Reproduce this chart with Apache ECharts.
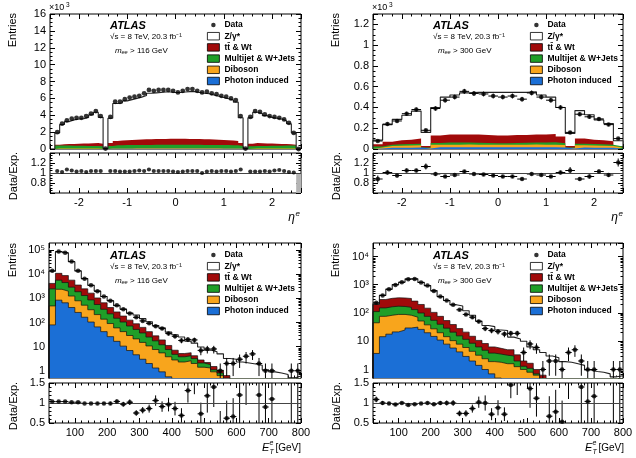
<!DOCTYPE html>
<html>
<head>
<meta charset="utf-8">
<script src="https://cdn.jsdelivr.net/npm/echarts@6/dist/echarts.min.js"></script>
<style>
html, body { margin: 0; padding: 0; background: #fff; }
#chart { width: 636px; height: 458px; }
</style>
</head>
<body>
<div id="chart"></div>
<script>
// ---------- eta^e, m_ee > 116 GeV  (entries x10^3, 0.1 bins from -2.5 to 2.6)
var etaLo116 = -2.5, etaW116 = 0.1
var etaData116 = [2.0, 3.0, 3.4, 3.6, 3.7, 3.7, 3.9, 4.2, 4.5, 3.9, 0.05,
  3.8, 5.6, 5.6, 5.9, 6.1, 6.2, 6.3, 6.6, 7.0, 6.9, 7.0, 7.0, 7.0, 6.9,
  6.7, 6.9, 7.1, 7.1, 6.9, 6.7, 6.8, 6.6, 6.5, 6.3, 6.2, 6.0, 5.8, 3.9, 0.05,
  3.8, 4.5, 4.4, 4.1, 3.9, 3.8, 3.7, 3.5, 3.1, 1.9, 0]
var etaTotal116 = [1.9, 2.9, 3.25, 3.45, 3.55, 3.6, 3.75, 4.05, 4.35, 3.75, 0.05,
  3.65, 5.4, 5.45, 5.7, 5.85, 6.0, 6.15, 6.35, 6.6, 6.65, 6.7, 6.75, 6.75, 6.7,
  6.7, 6.75, 6.8, 6.8, 6.7, 6.6, 6.55, 6.4, 6.25, 6.1, 5.95, 5.8, 5.55, 3.7, 0.05,
  3.7, 4.35, 4.2, 3.95, 3.75, 3.65, 3.55, 3.35, 3.0, 1.9, 0]
var etaTtTop116 = [0.50, 0.55, 0.58, 0.60, 0.62, 0.64, 0.66, 0.68, 0.70, 0.62, 0.03,
  0.70, 0.95, 1.00, 1.05, 1.08, 1.10, 1.13, 1.15, 1.17, 1.18, 1.20, 1.20, 1.21, 1.21,
  1.21, 1.21, 1.20, 1.20, 1.18, 1.17, 1.15, 1.13, 1.10, 1.08, 1.05, 1.00, 0.95, 0.70, 0.03,
  0.62, 0.70, 0.68, 0.66, 0.64, 0.62, 0.60, 0.58, 0.55, 0.50, 0]
var etaMjTop116 = [0.42, 0.42, 0.41, 0.40, 0.39, 0.38, 0.37, 0.36, 0.35, 0.32, 0.02,
  0.36, 0.44, 0.45, 0.46, 0.47, 0.47, 0.48, 0.48, 0.48, 0.49, 0.49, 0.49, 0.49, 0.49,
  0.49, 0.49, 0.49, 0.49, 0.49, 0.48, 0.48, 0.48, 0.47, 0.47, 0.46, 0.45, 0.44, 0.36, 0.02,
  0.32, 0.35, 0.36, 0.37, 0.38, 0.39, 0.40, 0.41, 0.42, 0.42, 0]
var etaDbTop116 = [0.05, 0.05, 0.05, 0.05, 0.05, 0.05, 0.05, 0.05, 0.05, 0.04, 0.005,
  0.06, 0.07, 0.07, 0.07, 0.07, 0.08, 0.08, 0.08, 0.08, 0.08, 0.08, 0.08, 0.08, 0.08,
  0.08, 0.08, 0.08, 0.08, 0.08, 0.08, 0.08, 0.08, 0.08, 0.07, 0.07, 0.07, 0.07, 0.06, 0.005,
  0.04, 0.05, 0.05, 0.05, 0.05, 0.05, 0.05, 0.05, 0.05, 0.05, 0]
var etaPiTop116 = [0.01, 0.01, 0.01, 0.01, 0.01, 0.01, 0.01, 0.01, 0.01, 0.01, 0.001,
  0.015, 0.015, 0.015, 0.015, 0.015, 0.015, 0.015, 0.015, 0.015, 0.015, 0.015, 0.015, 0.015, 0.015,
  0.015, 0.015, 0.015, 0.015, 0.015, 0.015, 0.015, 0.015, 0.015, 0.015, 0.015, 0.015, 0.015, 0.015, 0.001,
  0.01, 0.01, 0.01, 0.01, 0.01, 0.01, 0.01, 0.01, 0.01, 0.01, 0]
var etaRatio116 = [1.04, 1.02, 1.07, 1.05, 1.03, 1.04, 1.02, 1.04, 1.04, 1.04, null,
  1.04, 1.04, 1.03, 1.03, 1.03, 1.04, 1.05, 1.04, 1.07, 1.04, 1.04, 1.04, 1.04, 1.03,
  1.02, 1.03, 1.04, 1.04, 1.04, 1.00, 1.03, 1.04, 1.03, 1.04, 1.04, 1.03, 1.04, 1.07, null,
  1.03, 1.03, 1.03, 1.04, 1.03, 1.05, 1.06, 1.04, 1.02, 1.01, null]

// ---------- eta^e, m_ee > 300 GeV  (entries x10^3, 0.2 bins from -2.6 to 2.6)
var etaLo300 = -2.6, etaW300 = 0.2
var etaData300 = [0.077, 0.24, 0.27, 0.34, 0.38, 0.18, 0.39, 0.47, 0.50, 0.555, 0.535, 0.53, 0.51,
  0.50, 0.51, 0.48, 0.54, 0.50, 0.47, 0.40, 0.16, 0.335, 0.31, 0.29, 0.235, 0.10]
var etaErr300 = [0.008, 0.015, 0.016, 0.018, 0.019, 0.013, 0.020, 0.022, 0.022, 0.024, 0.023, 0.023, 0.023,
  0.022, 0.023, 0.022, 0.023, 0.022, 0.022, 0.020, 0.013, 0.018, 0.018, 0.017, 0.015, 0.010]
var etaTotal300 = [0.085, 0.235, 0.285, 0.325, 0.365, 0.16, 0.40, 0.50, 0.52, 0.54, 0.545, 0.545, 0.545,
  0.545, 0.545, 0.545, 0.55, 0.52, 0.50, 0.40, 0.15, 0.37, 0.33, 0.28, 0.245, 0.08]
var etaTtTop300 = [0.045, 0.07, 0.085, 0.09, 0.10, 0.03, 0.13, 0.14, 0.14, 0.14, 0.14, 0.135, 0.13,
  0.13, 0.135, 0.135, 0.14, 0.14, 0.145, 0.12, 0.03, 0.10, 0.09, 0.085, 0.075, 0.03]
var etaMjTop300 = [0.025, 0.04, 0.045, 0.048, 0.05, 0.015, 0.058, 0.062, 0.062, 0.062, 0.06, 0.058, 0.056,
  0.056, 0.058, 0.06, 0.062, 0.062, 0.064, 0.055, 0.015, 0.05, 0.048, 0.045, 0.042, 0.025]
var etaDbTop300 = [0.015, 0.03, 0.032, 0.034, 0.035, 0.01, 0.04, 0.042, 0.042, 0.043, 0.042, 0.04, 0.04,
  0.04, 0.04, 0.042, 0.043, 0.042, 0.042, 0.038, 0.01, 0.035, 0.034, 0.032, 0.03, 0.015]
var etaPiTop300 = [0.006, 0.012, 0.013, 0.013, 0.014, 0.004, 0.016, 0.017, 0.017, 0.017, 0.017, 0.016, 0.016,
  0.016, 0.016, 0.017, 0.017, 0.017, 0.017, 0.015, 0.004, 0.014, 0.013, 0.013, 0.012, 0.006]
var etaRatio300 = [0.88, 1.01, 0.95, 1.05, 1.05, 1.13, 0.98, 0.93, 0.96, 1.03, 0.98, 0.97, 0.95,
  0.93, 0.93, 0.88, 0.98, 0.96, 0.93, 1.01, 1.05, 0.88, 0.93, 1.03, 0.96, 1.21]
var etaRatioErr300 = [0.07, 0.04, 0.04, 0.04, 0.035, 0.06, 0.035, 0.03, 0.03, 0.03, 0.03, 0.03, 0.03,
  0.03, 0.03, 0.03, 0.03, 0.03, 0.03, 0.035, 0.07, 0.035, 0.04, 0.04, 0.04, 0.08]

// ---------- E_T^e [GeV], 20 GeV bins from 20 to 800
var etLo = 20, etW = 20
var etData116 = [14000, 89000, 79000, 34000, 14000, 6600, 3500, 2000, 1200, 800, 520, 355, 240, 165,
  117, 93, 71, 56, 35, 27, 18, 20, 19, 7, 8, 8, 1, 2, 2, 3, 4, 5, 2, 1, 1, null, null, 1, 1]
var etErr116 = [120, 300, 280, 180, 120, 81, 59, 45, 35, 28, 23, 19, 15, 13, 11, 9.6, 8.4, 7.5, 5.9,
  5.2, 4.2, 4.5, 4.4, 2.6, 2.8, 2.8, 1, 1.4, 1.4, 1.7, 2, 2.2, 1.4, 1, 1, 0, 0, 1, 1]
var etTotal116 = [13500, 86000, 76300, 33300, 13700, 6670, 3540, 2020, 1210, 808, 500, 360, 250, 205,
  145, 108, 75, 60, 40, 31, 25, 17, 14, 9.6, 7.2, 6.1, 5, 3.2, 3.0, 2.3, 2.1, 1.9, 1.7, 1.1, 0.9, 0.8, 0.7, 0.5, 0.6]
var etTtTop116 = [4200, 11000, 8900, 5750, 3600, 2500, 1660, 1050, 660, 420, 275, 186, 126, 89, 63, 42,
  28, 19, 11.2, 7.1, 5.2, 5.6, 4.2, 2.8, 2.2, 1.5, 1.05, 0.63, 0.4]
var etMjTop116 = [2500, 5750, 4570, 2950, 1900, 1320, 870, 560, 355, 230, 151, 105, 72, 52, 37, 25,
  17.4, 12, 7.6, 4.8, 3.8, 4.2, 3.2, 2.1, 1.8, 1.1, 0.8, 0.5]
var etDbTop116 = [490, 2400, 2000, 1260, 800, 525, 340, 214, 138, 91, 60, 42, 29, 21, 15, 10.7, 7.6,
  5.5, 3.8, 2.8, 2.3, 2.6, 2.0, 1.4, 1.3, 0.9, 0.63]
var etPiTop116 = [80, 850, 660, 420, 263, 166, 105, 66, 42, 26, 16.6, 10.5, 6.9, 4.6, 3.0, 2.0, 1.3,
  0.9, 0.56, 0.4]
var etRatio116 = [1.035, 1.035, 1.035, 1.02, 1.02, 0.99, 0.99, 0.99, 0.99, 0.99, 1.04, 0.97, 1.02, 0.75,
  0.82, 0.86, 1.06, 0.91, 0.96, 0.86, 0.69, 1.31, 1.6, 0.73, 1.18, 1.4, 0.4, 0.62, 0.66, 1.2, 1.9, 2.6,
  1.2, 0.9, 1.1, null, null, 2.0, 1.7]
var etRatioErr116 = [0.01, 0.005, 0.005, 0.008, 0.01, 0.015, 0.02, 0.025, 0.03, 0.04, 0.05, 0.06, 0.07,
  0.07, 0.08, 0.1, 0.13, 0.13, 0.17, 0.17, 0.18, 0.3, 0.38, 0.28, 0.42, 0.5, 0.4, 0.44, 0.46, 0.7, 0.95,
  1.15, 0.85, 0.9, 1.1, 0, 0, 2, 1.7]

var etData300 = [230, 420, 690, 980, 1230, 1550, 1580, 1200, 930, 600, 380, 275, 195, 130, 89, 71, 50,
  28, 24, 22, 18, 19, 19, 4, 8, 6, 1, 2, 2, 1, 4, 5, 2, 1, 1, null, null, 1, 1]
var etErr300 = [15, 20, 26, 31, 35, 39, 40, 35, 30, 24, 19.5, 16.6, 14, 11.4, 9.4, 8.4, 7.1, 5.3, 4.9,
  4.7, 4.2, 4.4, 4.4, 2, 2.8, 2.4, 1, 1.4, 1.4, 1, 2, 2.2, 1.4, 1, 1, 0, 0, 1, 1]
var etTotal300 = [211, 420, 697, 1020, 1230, 1630, 1630, 1210, 930, 620, 380, 275, 195, 176, 120, 83,
  52, 36, 33, 25, 24, 14, 12, 10, 6.3, 5, 4, 3, 2.6, 1.9, 1.8, 1.6, 1.4, 0.96, 0.85, 0.8, 0.7, 0.55, 0.6]
var etTtTop300 = [200, 300, 330, 345, 340, 325, 263, 200, 148, 105, 76, 54, 39, 28, 21, 15, 10.7, 8.3,
  6.3, 5.6, 5.0, 5.0, 3.3, 2.0, 1.66, 1.0, 0.63]
var etMjTop300 = [112, 151, 166, 174, 170, 158, 132, 100, 76, 55, 40, 29, 21, 15.5, 11.7, 8.5, 6.3,
  4.8, 3.8, 3.5, 3.2, 3.0, 2.0, 1.3, 1.1, 0.7]
var etDbTop300 = [45, 76, 83, 89, 89, 83, 71, 52, 38, 27.5, 20, 14.5, 10.5, 7.9, 6.0, 4.4, 3.2, 2.4,
  1.9, 1.8, 1.6, 1.6, 1.26, 1.0, 0.8, 0.63]
var etPiTop300 = [3.7, 14.5, 17.8, 21.4, 25, 29.5, 31.6, 26.3, 20, 14.8, 11, 7.9, 5.75, 4.2, 2.9, 2.0,
  1.4, 1.0, 0.7, 0.5]
var etRatio300 = [1.09, 1.0, 0.99, 0.96, 1.0, 0.95, 0.97, 0.99, 1.0, 0.97, 1.0, 1.0, 1.0, 0.74, 0.74,
  0.86, 1.02, 1.0, 0.72, 0.88, 0.72, 1.45, 1.6, 0.4, 1.36, 1.12, 0.25, 0.67, 0.78, 0.53, 2.2, 3.0, 1.4,
  1.04, 1.17, null, null, 1.8, 1.7]
var etRatioErr300 = [0.07, 0.05, 0.04, 0.03, 0.03, 0.025, 0.025, 0.03, 0.035, 0.04, 0.05, 0.06, 0.07,
  0.07, 0.08, 0.1, 0.14, 0.19, 0.15, 0.19, 0.17, 0.33, 0.4, 0.2, 0.48, 0.46, 0.25, 0.5, 0.55, 0.53, 1.1,
  1.35, 1.0, 1.04, 1.17, 0, 0, 1.8, 1.7]

var legendNames = ['Data', 'Z/γ*', 'tt\u0304 & Wt', 'Multijet & W+Jets', 'Diboson', 'Photon induced']
var colors = ['#000000', '#ffffff', '#a10a0a', '#1f9e28', '#f8a51c', '#1b6fd6']

var FONT = 'Liberation Sans'
var sup = { 2: '²', 3: '³', 4: '⁴', 5: '⁵' }

var grids = [], xAxes = [], yAxes = [], series = [], legends = [], graphics = []

function makeAxis(gi, c, pos, labels) {
  var a = {
    gridIndex: gi, type: c.type || 'value', position: pos, min: c.min, max: c.max,
    axisLine: { show: false, onZero: false }, splitLine: { show: false }, silent: true,
    axisTick: { show: true, inside: true, length: 5, lineStyle: { color: '#000', width: 1 } },
    minorTick: { show: !!c.minor, splitNumber: c.minor || 5, length: 2.5, lineStyle: { color: '#000', width: 1 } },
    axisLabel: { show: labels, color: '#000', fontSize: 11, fontFamily: FONT, margin: 4,
      showMinLabel: c.showMin, showMaxLabel: c.showMax }
  }
  if (c.fmt) a.axisLabel.formatter = c.fmt
  if (c.interval != null) a.interval = c.interval
  if (c.splitNumber != null) a.splitNumber = c.splitNumber
  if (c.type === 'log') a.logBase = 10
  return a
}

// short ticks at 2..9 x 10^k for a log axis (tick positions, not data)
function logMinorAxis(gi, c, pos) {
  var vals = []
  for (var e = -1; e <= 6; e++) {
    for (var m = 2; m <= 9; m++) {
      var v = m * Math.pow(10, e)
      if (v > c.min && v < c.max) vals.push(v)
    }
  }
  return {
    gridIndex: gi, type: 'log', logBase: 10, position: pos, min: c.min, max: c.max, silent: true,
    axisLine: { show: false, onZero: false }, splitLine: { show: false }, axisLabel: { show: false },
    axisTick: { show: true, inside: true, length: 2.5, customValues: vals, lineStyle: { color: '#000', width: 1 } }
  }
}

function panel(box, xc, yc, xLabels) {
  var gi = grids.length
  grids.push({ left: box[0], top: box[1], width: box[2], height: box[3], show: true,
    borderColor: '#000', borderWidth: 1, backgroundColor: 'transparent', outerBoundsMode: 'none' })
  var xi = xAxes.length, yi = yAxes.length
  xAxes.push(makeAxis(gi, xc, 'bottom', xLabels))
  xAxes.push(makeAxis(gi, xc, 'top', false))
  yAxes.push(makeAxis(gi, yc, 'left', true))
  yAxes.push(makeAxis(gi, yc, 'right', false))
  if (yc.type === 'log') {
    yAxes.push(logMinorAxis(gi, yc, 'left'))
    yAxes.push(logMinorAxis(gi, yc, 'right'))
  }
  return { x: xi, y: yi }
}

function stepData(lo, w, n, vals, floor) {
  var pts = [[lo, floor]], v = floor
  for (var i = 0; i < n; i++) {
    v = vals[i] == null ? floor : vals[i]
    pts.push([lo + i * w, v])
  }
  pts.push([lo + n * w, v])
  pts.push([lo + n * w, floor])
  return pts
}

function hist(ax, name, lo, w, n, vals, floor, fill, line, lw) {
  series.push({
    type: 'line', name: name, xAxisIndex: ax.x, yAxisIndex: ax.y, step: 'end',
    symbol: 'none', showSymbol: false, silent: true, clip: true, animation: false,
    data: stepData(lo, w, n, vals, floor),
    lineStyle: line ? { color: line, width: lw || 0.7 } : { width: 0, opacity: 0 },
    itemStyle: { color: fill },
    areaStyle: { color: fill, opacity: 1, origin: 'start' }
  })
}

function errRender(floor) {
  return function (params, api) {
    var x = api.value(0), y = api.value(1), e = api.value(2), hw = api.value(3)
    var cs = params.coordSys
    var top = cs.y, bot = cs.y + cs.height
    var lo = Math.max(y - e, floor), hi = y + e
    var a = api.coord([x, lo]), b = api.coord([x, hi])
    var kids = []
    var y1 = Math.min(Math.max(a[1], top), bot), y2 = Math.min(Math.max(b[1], top), bot)
    if (e > 0 && y1 !== y2) {
      kids.push({ type: 'line', shape: { x1: a[0], y1: y1, x2: b[0], y2: y2 }, style: { stroke: '#000', lineWidth: 1 } })
    }
    var l = api.coord([x - hw, y]), r = api.coord([x + hw, y])
    if (hw > 0 && l[1] >= top && l[1] <= bot) {
      kids.push({ type: 'line', shape: { x1: Math.max(l[0], cs.x), y1: l[1], x2: Math.min(r[0], cs.x + cs.width), y2: r[1] },
        style: { stroke: '#000', lineWidth: 1 } })
    }
    return { type: 'group', children: kids }
  }
}

function points(ax, name, lo, w, vals, errs, hw, floor, size, extra) {
  var pts = [], bars = []
  for (var i = 0; i < vals.length; i++) {
    if (vals[i] == null) continue
    var c = lo + (i + 0.5) * w
    pts.push([c, vals[i]])
    if (errs) bars.push([c, vals[i], errs[i], hw])
  }
  var s = { type: 'scatter', name: name, xAxisIndex: ax.x, yAxisIndex: ax.y, symbol: 'circle',
    symbolSize: size, itemStyle: { color: '#000' }, data: pts, clip: true, silent: true, z: 5, animation: false }
  if (extra) for (var k in extra) s[k] = extra[k]
  series.push(s)
  if (errs) {
    series.push({ type: 'custom', name: name + ' err', xAxisIndex: ax.x, yAxisIndex: ax.y, data: bars,
      renderItem: errRender(floor), clip: true, silent: true, z: 4, animation: false })
  }
}

// total MC (Z/gamma* on top of everything) first, then the background stack tops
function stack(ax, lo, w, n, total, tops, floor, outline) {
  hist(ax, legendNames[1], lo, w, n, total, floor, '#fff', '#222', 1.1)
  for (var k = 0; k < tops.length; k++) {
    hist(ax, legendNames[k + 2], lo, w, n, tops[k], floor, colors[k + 2], outline)
  }
}

var dataIcon = 'path://M0,0L0.01,0M24,15L24.01,15M7.5,7.5A4.5,4.5 0 1 1 16.5,7.5A4.5,4.5 0 1 1 7.5,7.5Z'

function legendAt(left, top) {
  var items = legendNames.map(function (n, i) {
    if (i === 0) return { name: n, icon: dataIcon, itemStyle: { color: '#000', borderWidth: 0 } }
    return { name: n, icon: 'rect', itemStyle: { color: colors[i], borderColor: '#000', borderWidth: 0.8 } }
  })
  legends.push({ orient: 'vertical', left: left, top: top, itemWidth: 12, itemHeight: 7.5, itemGap: 1.2,
    selectedMode: false, padding: 0, data: items,
    textStyle: { fontSize: 8.5, fontWeight: 'bold', fontFamily: FONT, color: '#000', lineHeight: 10 } })
}

function txt(x, y, s, o) {
  var st = { text: s, x: 0, y: 0, fill: '#000', font: (o.style || '') + ' ' + (o.weight || 'normal') + ' ' + o.size + 'px "' + FONT + '"',
    textAlign: o.align || 'left', textVerticalAlign: o.valign || 'middle' }
  graphics.push({ type: 'text', x: x, y: y, rotation: o.rot || 0, style: st, silent: true })
}

function labels(dx, dy, mass, isEta) {
  txt(110 + dx, 25.5 + dy, 'ATLAS', { size: 11, weight: 'bold', style: 'italic' })
  txt(110 + dx, 37 + dy, '√s = 8 TeV, 20.3 fb⁻¹', { size: 8 })
  txt(115 + dx, 50.5 + dy, 'm', { size: 8, style: 'italic' })
  txt(121.5 + dx, 52.5 + dy, 'ee', { size: 5.5, style: 'italic' })
  txt(130 + dx, 50.5 + dy, '> ' + mass + ' GeV', { size: 8 })
  txt(13 + dx, 13 + dy, 'Entries', { size: 11, align: 'right', rot: Math.PI / 2 })
  txt(14 + dx, 176 + dy, 'Data/Exp.', { size: 11, align: 'center', rot: Math.PI / 2 })
  if (isEta) {
    txt(49 + dx, 8 + dy, '×10', { size: 9 })
    txt(66 + dx, 5 + dy, '3', { size: 6.5 })
    txt(295 + dx, 218 + dy, 'η', { size: 12, style: 'italic', align: 'right' })
    txt(295.5 + dx, 213.5 + dy, 'e', { size: 8, style: 'italic' })
  } else {
    txt(262 + dx, 218 + dy, 'E', { size: 11, style: 'italic' })
    txt(269.5 + dx, 213.5 + dy, 'e', { size: 7, style: 'italic' })
    txt(269.5 + dx, 222 + dy, 'T', { size: 7, style: 'italic' })
    txt(301 + dx, 218 + dy, '[GeV]', { size: 10, align: 'right' })
  }
}

function logFmt(v) {
  var l = Math.log(v) / Math.LN10, e = Math.round(l)
  if (Math.abs(l - e) > 1e-6) return ''
  return e === 0 ? '1' : e === 1 ? '10' : '10' + sup[e]
}

var etaX = { min: -2.6, max: 2.6, splitNumber: 5, minor: 5, showMin: false, showMax: false }
var etX = { min: 20, max: 800, splitNumber: 8, minor: 5, showMin: false, showMax: true }
var ratioEtaY = { min: 0.6, max: 1.4, interval: 0.2, minor: 4, showMin: false, showMax: false }
var ratioEtY = { min: 0.5, max: 1.5, interval: 0.5, minor: 5, showMin: true, showMax: true }
var unityLine = { silent: true, symbol: 'none', label: { show: false }, data: [{ yAxis: 1 }],
  lineStyle: { color: '#444', width: 1, type: 'solid' }, animation: false }

// ---- top left: eta, m > 116
var a = panel([50, 14, 251, 135], etaX, { min: 0, max: 16, interval: 2, minor: 4, showMin: true, showMax: true }, false)
stack(a, etaLo116, etaW116, 51, etaTotal116, [etaTtTop116, etaMjTop116, etaDbTop116, etaPiTop116], 0, null)
points(a, 'Data', etaLo116, etaW116, etaData116, null, 0, 0, 4.8)
var r = panel([50, 153, 251, 40], etaX, ratioEtaY, true)
points(r, 'ratio', etaLo116, etaW116, etaRatio116, null, 0, 0, 4.2, {
  markLine: unityLine,
  markArea: { silent: true, itemStyle: { color: '#b4b4b4' }, data: [[{ coord: [2.5, 0.6] }, { coord: [2.6, 1.0] }]] }
})
legendAt(207, 20)
labels(0, 0, 116, true)

// ---- top right: eta, m > 300
a = panel([373, 14, 250, 135], etaX, { min: 0, max: 1.3, interval: 0.2, minor: 4, showMin: true, showMax: false }, false)
stack(a, etaLo300, etaW300, 26, etaTotal300, [etaTtTop300, etaMjTop300, etaDbTop300, etaPiTop300], 0, null)
points(a, 'Data', etaLo300, etaW300, etaData300, etaErr300, 0.1, 0, 4.5)
r = panel([373, 153, 250, 40], etaX, ratioEtaY, true)
points(r, 'ratio', etaLo300, etaW300, etaRatio300, etaRatioErr300, 0.1, 0, 4.5, { markLine: unityLine })
legendAt(530, 20)
labels(323, 0, 300, true)

// ---- bottom left: ET, m > 116
a = panel([49, 243, 252, 135], etX, { type: 'log', min: 0.5, max: 2e5, fmt: logFmt, showMin: false, showMax: false }, false)
stack(a, etLo, etW, 39, etTotal116, [etTtTop116, etMjTop116, etDbTop116, etPiTop116], 1e-3, '#111')
points(a, 'Data', etLo, etW, etData116, etErr116, 10, 1e-3, 4.5)
r = panel([49, 383, 252, 40], etX, ratioEtY, true)
points(r, 'ratio', etLo, etW, etRatio116, etRatioErr116, 10, 0, 4.5, { markLine: unityLine })
legendAt(207, 250)
labels(0, 230, 116, false)

// ---- bottom right: ET, m > 300
a = panel([373, 243, 250, 135], etX, { type: 'log', min: 0.5, max: 3e4, fmt: logFmt, showMin: false, showMax: false }, false)
stack(a, etLo, etW, 39, etTotal300, [etTtTop300, etMjTop300, etDbTop300, etPiTop300], 1e-3, '#111')
points(a, 'Data', etLo, etW, etData300, etErr300, 10, 1e-3, 4.5)
r = panel([373, 383, 250, 40], etX, ratioEtY, true)
points(r, 'ratio', etLo, etW, etRatio300, etRatioErr300, 10, 0, 4.5, { markLine: unityLine })
legendAt(530, 250)
labels(323, 230, 300, false)

var chart = echarts.init(document.getElementById('chart'), null, { renderer: 'canvas' })
chart.setOption({
  animation: false,
  backgroundColor: '#fff',
  textStyle: { fontFamily: FONT },
  grid: grids,
  xAxis: xAxes,
  yAxis: yAxes,
  legend: legends,
  graphic: graphics,
  series: series
})
</script>
</body>
</html>
